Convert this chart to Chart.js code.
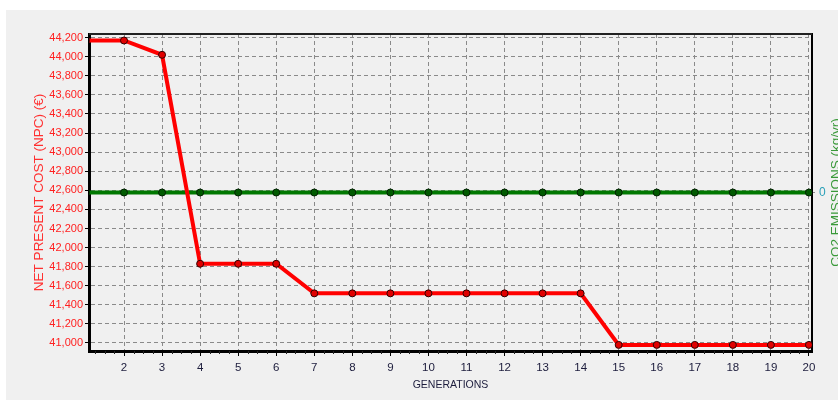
<!DOCTYPE html>
<html>
<head>
<meta charset="utf-8">
<script src="https://cdn.jsdelivr.net/npm/chart.js@4"></script>
<style>
  html, body { margin: 0; padding: 0; background: #fff; }
  #wrap { position: absolute; left: 6px; top: 10px; width: 832px; height: 390px; background: #f0f0f0; }
</style>
</head>
<body>
<div id="wrap"><canvas id="chart" width="832" height="390"></canvas></div>
<script>
const generations = [1, 2, 3, 4, 5, 6, 7, 8, 9, 10, 11, 12, 13, 14, 15, 16, 17, 18, 19, 20];
const npcValues = [44170, 44170, 44020, 41830, 41830, 41830, 41520, 41520, 41520, 41520,
                   41520, 41520, 41520, 41520, 40980, 40980, 40980, 40980, 40980, 40980];
const co2Values = [0, 0, 0, 0, 0, 0, 0, 0, 0, 0, 0, 0, 0, 0, 0, 0, 0, 0, 0, 0];

const generationTicks = [2, 3, 4, 5, 6, 7, 8, 9, 10, 11, 12, 13, 14, 15, 16, 17, 18, 19, 20];
const npcTicks = [41000, 41200, 41400, 41600, 41800, 42000, 42200, 42400, 42600, 42800,
                  43000, 43200, 43400, 43600, 43800, 44000, 44200];
const co2Ticks = [0];

const GRID = '#8a8a8a';
const FONT = '"Liberation Sans", Arial, sans-serif';
const fmt = n => Number(n).toLocaleString('en-US');
const toPoints = vals => vals.map((v, i) => ({ x: generations[i], y: v }));

Chart.defaults.font.family = FONT;

// small tick marks between the generations + top frame + right axis title
const extras = {
  id: 'extras',
  afterDraw(chart) {
    const { ctx, chartArea } = chart;
    const xs = chart.scales.x;
    ctx.save();
    ctx.strokeStyle = '#222';
    ctx.lineWidth = 1;
    for (let v = 1.25; v < 20.08; v += 0.25) {
      if (Number.isInteger(v)) continue;
      const px = Math.round(xs.getPixelForValue(v)) + 0.5;
      ctx.beginPath();
      ctx.moveTo(px, chartArea.bottom);
      ctx.lineTo(px, chartArea.bottom + 3);
      ctx.stroke();
    }
    ctx.lineWidth = 2;
    ctx.beginPath();
    ctx.moveTo(chartArea.left, chartArea.top);
    ctx.lineTo(chartArea.right, chartArea.top);
    ctx.stroke();

    ctx.translate(chart.width - 2, (chartArea.top + chartArea.bottom) / 2);
    ctx.rotate(-Math.PI / 2);
    ctx.fillStyle = '#3a9a3a';
    ctx.font = '13.5px ' + FONT;
    ctx.textAlign = 'center';
    ctx.textBaseline = 'middle';
    ctx.fillText('CO2 EMISSIONS (kg/yr)', 0, 0);
    ctx.restore();
  }
};

new Chart(document.getElementById('chart'), {
  type: 'line',
  data: {
    datasets: [
      {
        label: 'NPC',
        data: toPoints(npcValues),
        yAxisID: 'y',
        borderColor: '#ff0000',
        borderWidth: 4,
        pointRadius: 3.5,
        pointBackgroundColor: '#e00000',
        pointBorderColor: '#300000',
        pointBorderWidth: 1,
        tension: 0,
        clip: 0
      },
      {
        label: 'CO2',
        data: toPoints(co2Values),
        yAxisID: 'y2',
        borderColor: '#007800',
        borderWidth: 4,
        pointRadius: 3.5,
        pointBackgroundColor: '#005a00',
        pointBorderColor: '#002000',
        pointBorderWidth: 1,
        tension: 0,
        clip: 0
      }
    ]
  },
  options: {
    responsive: false,
    animation: false,
    layout: { padding: { top: 24, left: 0, right: 0, bottom: 0 } },
    plugins: { legend: { display: false }, tooltip: { enabled: false } },
    scales: {
      x: {
        type: 'linear',
        position: 'bottom',
        min: 1.08,
        max: 20.08,
        afterBuildTicks: s => { s.ticks = generationTicks.map(v => ({ value: v })); },
        afterFit: s => { s.height = 49; },
        ticks: { color: '#1c1c3c', font: { size: 11.5 }, padding: 5, maxRotation: 0, callback: v => v },
        grid: { color: GRID, tickColor: '#000', tickLength: 5, lineWidth: 1 },
        border: { color: '#000', width: 3, dash: [4, 3] },
        title: { display: true, text: 'GENERATIONS', color: '#1c1c3c', font: { size: 10.5 }, padding: { top: 0, bottom: 9 } }
      },
      y: {
        position: 'left',
        min: 40916,
        max: 44238,
        afterBuildTicks: s => { s.ticks = npcTicks.map(v => ({ value: v })); },
        afterFit: s => { s.width = 83; },
        ticks: { color: '#ff2020', font: { size: 11 }, padding: 2, callback: v => fmt(v) },
        grid: { color: GRID, tickColor: '#000', tickLength: 4, lineWidth: 1 },
        border: { color: '#000', width: 3, dash: [4, 3] },
        title: { display: true, text: 'NET PRESENT COST (NPC) (€)', color: '#ff3030', font: { size: 13.5 }, padding: { top: 25, bottom: 0 } }
      },
      y2: {
        position: 'right',
        min: -1,
        max: 1,
        afterBuildTicks: s => { s.ticks = co2Ticks.map(v => ({ value: v })); },
        afterFit: s => { s.width = 26; },
        ticks: { color: '#2aa0b8', font: { size: 12 }, padding: 3 },
        grid: { drawOnChartArea: false, tickColor: GRID, tickLength: 4, tickBorderDash: [2, 2] },
        border: { color: '#000', width: 2 }
      }
    }
  },
  plugins: [extras]
});
</script>
</body>
</html>
